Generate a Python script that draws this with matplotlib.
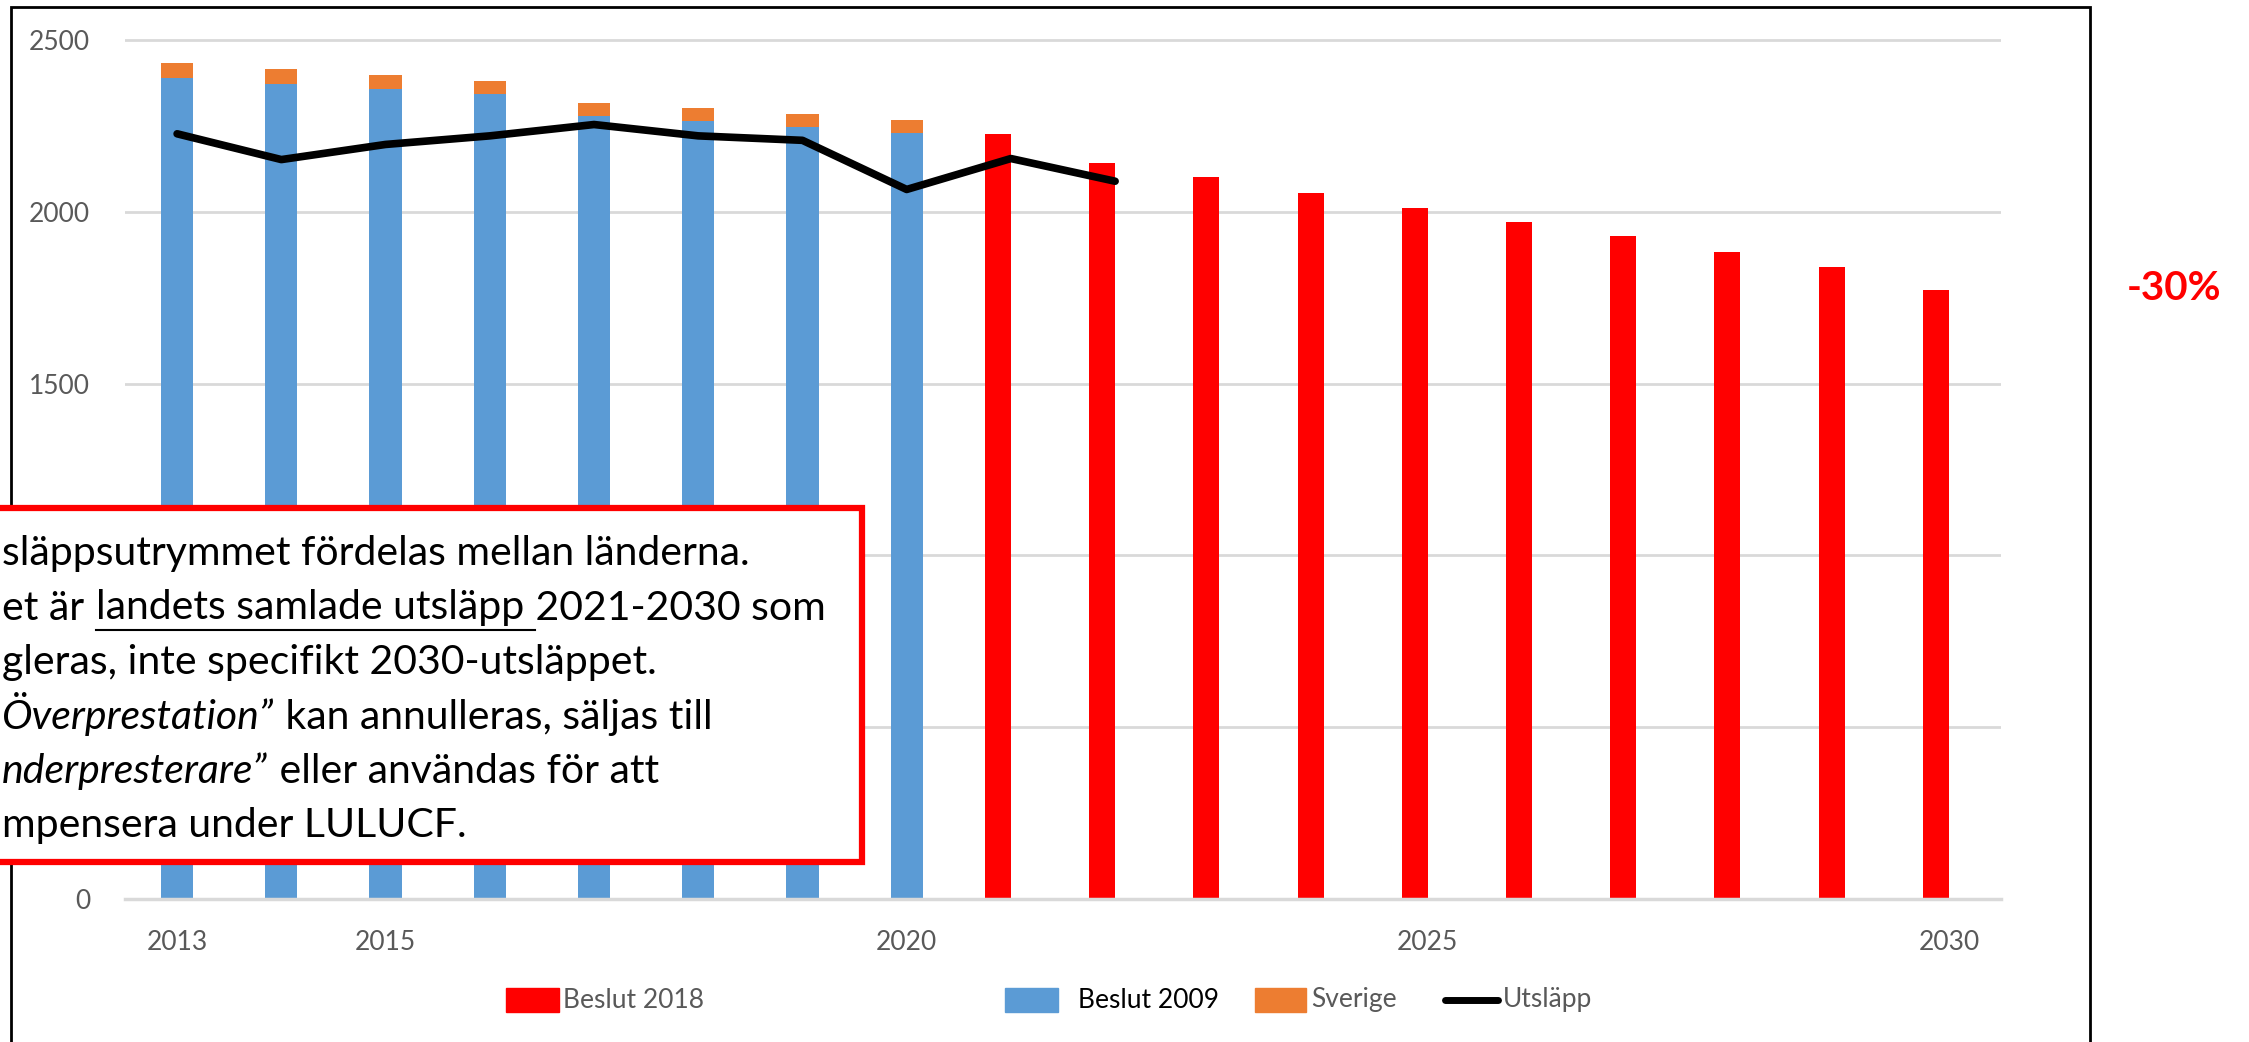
import numpy as np
import matplotlib.pyplot as plt
from matplotlib.patches import Rectangle
from matplotlib.lines import Line2D

plt.rcParams['font.family'] = ['Lato', 'DejaVu Sans']

W, H = 2249, 1042

# data
years = list(range(2013, 2031))
years_2009 = years[:8]
beslut_2009 = [2389, 2373, 2358, 2342, 2280, 2263, 2246, 2229]
sverige = [44, 42, 40, 40, 38, 38, 38, 37]
years_2018 = years[8:]
beslut_2018 = [2227, 2143, 2101, 2056, 2012, 1971, 1929, 1883, 1840, 1773]
years_utslapp = years[:10]
utslapp = [2227, 2152, 2196, 2221, 2254, 2221, 2208, 2065, 2155, 2089]
tick_years = [2013, 2015, 2020, 2025, 2030]
# 500 and 1000 sit under the text box in the original, so they are left blank
y_ticks = [0, 500, 1000, 1500, 2000, 2500]
y_labels = ['0', '', '', '1500', '2000', '2500']

blue = '#5B9BD5'
orange = '#ED7D31'
red = '#FF0000'
grey_txt = '#595959'


def fx(px):
    return px / W


def fy(py):
    return 1 - py / H


fig = plt.figure(figsize=(W / 100, H / 100), dpi=100)
ymax = 2560
ax_top = 899 - ymax * (859 / 2500)
ax = fig.add_axes([fx(125), fy(899), (2001 - 125) / W, (899 - ax_top) / H])

pos = {y: i for i, y in enumerate(years)}
x09 = np.array([pos[y] for y in years_2009])
x18 = np.array([pos[y] for y in years_2018])
xut = np.array([pos[y] for y in years_utslapp])

ax.bar(x09, beslut_2009, width=0.31, color=blue, zorder=2)
ax.bar(x09, sverige, bottom=beslut_2009, width=0.31, color=orange, zorder=2)
ax.bar(x18 - 0.125, beslut_2018, width=0.25, color=red, zorder=2)
ax.plot(xut, utslapp, color='black', lw=5.5, solid_capstyle='round', zorder=3)

ax.set_xlim(-0.5, len(years) - 0.5)
ax.set_ylim(0, ymax)
ax.set_yticks(y_ticks)
ax.set_yticklabels(y_labels)
ax.set_xticks([pos[y] for y in tick_years])
ax.set_xticklabels([str(y) for y in tick_years])
ax.yaxis.grid(True, color='#d9d9d9', lw=2)
ax.set_axisbelow(True)
for s in ['top', 'right', 'left']:
    ax.spines[s].set_visible(False)
ax.spines['bottom'].set_color('#d9d9d9')
ax.spines['bottom'].set_linewidth(2.5)
ax.tick_params(axis='both', length=0, labelsize=19, labelcolor=grey_txt)
ax.tick_params(axis='x', pad=22)
ax.tick_params(axis='y', pad=25)

# outer frame
fig.add_artist(Rectangle((fx(11), fy(1100)), (2090 - 11) / W, (1100 - 7) / H,
                         transform=fig.transFigure, fill=False, ec='black', lw=2, zorder=1))

# legend, drawn by hand to keep the odd spacing
leg_y = 1000
fig.add_artist(Rectangle((fx(506), fy(leg_y + 12)), 53 / W, 24 / H, transform=fig.transFigure,
                         color=red, zorder=5))
fig.text(fx(563), fy(leg_y), 'Beslut 2018', fontsize=19, color=grey_txt, va='center')
fig.add_artist(Rectangle((fx(1005), fy(leg_y + 12)), 53 / W, 24 / H, transform=fig.transFigure,
                         color=blue, zorder=5))
fig.text(fx(1078), fy(leg_y), 'Beslut 2009', fontsize=19, color='black', va='center')
fig.add_artist(Rectangle((fx(1255), fy(leg_y + 12)), 51 / W, 24 / H, transform=fig.transFigure,
                         color=orange, zorder=5))
fig.text(fx(1311), fy(leg_y), 'Sverige', fontsize=19, color=grey_txt, va='center')
fig.add_artist(Line2D([fx(1445), fx(1498)], [fy(leg_y), fy(leg_y)], transform=fig.transFigure,
                      color='black', lw=5, solid_capstyle='round', zorder=5))
fig.text(fx(1503), fy(leg_y), 'Utsläpp', fontsize=19, color=grey_txt, va='center')

fig.text(fx(2174), fy(288), '-30%', fontsize=29, fontweight='bold', color=red,
         ha='center', va='center')

# text box
fig.add_artist(Rectangle((fx(-20), fy(862)), (862 + 20) / W, (862 - 508) / H,
                         transform=fig.transFigure, fc='white', ec=red, lw=4.5, zorder=6))

box_size = 29.5
lines = [
    [('släppsutrymmet fördelas mellan länderna.', 'normal', False)],
    [('et är ', 'normal', False), ('landets samlade utsläpp', 'normal', True),
     (' 2021-2030 som', 'normal', False)],
    [('gleras, inte specifikt 2030-utsläppet.', 'normal', False)],
    [('Överprestation”', 'italic', False), (' kan annulleras, säljas till', 'normal', False)],
    [('nderpresterare”', 'italic', False), (' eller användas för att', 'normal', False)],
    [('mpensera under LULUCF.', 'normal', False)],
]

fig.canvas.draw()
renderer = fig.canvas.get_renderer()
for i, segs in enumerate(lines):
    base = 565 + 54.5 * i
    xp = 2
    under = []
    for txt, style, ul in segs:
        t = fig.text(fx(xp), fy(base), txt, fontsize=box_size, fontstyle=style,
                     color='black', va='baseline', zorder=7)
        bb = t.get_window_extent(renderer)
        if ul:
            under.append(bb.x0)
        elif under and len(under) == 1:
            under.append(bb.x0 + 0.35 * box_size)
        xp = bb.x1 + 1
    if len(under) == 2:
        fig.add_artist(Line2D([under[0] / W, under[1] / W], [fy(base + 10), fy(base + 10)],
                              transform=fig.transFigure, color='black', lw=1.5, zorder=7))

fig.savefig('out.png', dpi=100)
